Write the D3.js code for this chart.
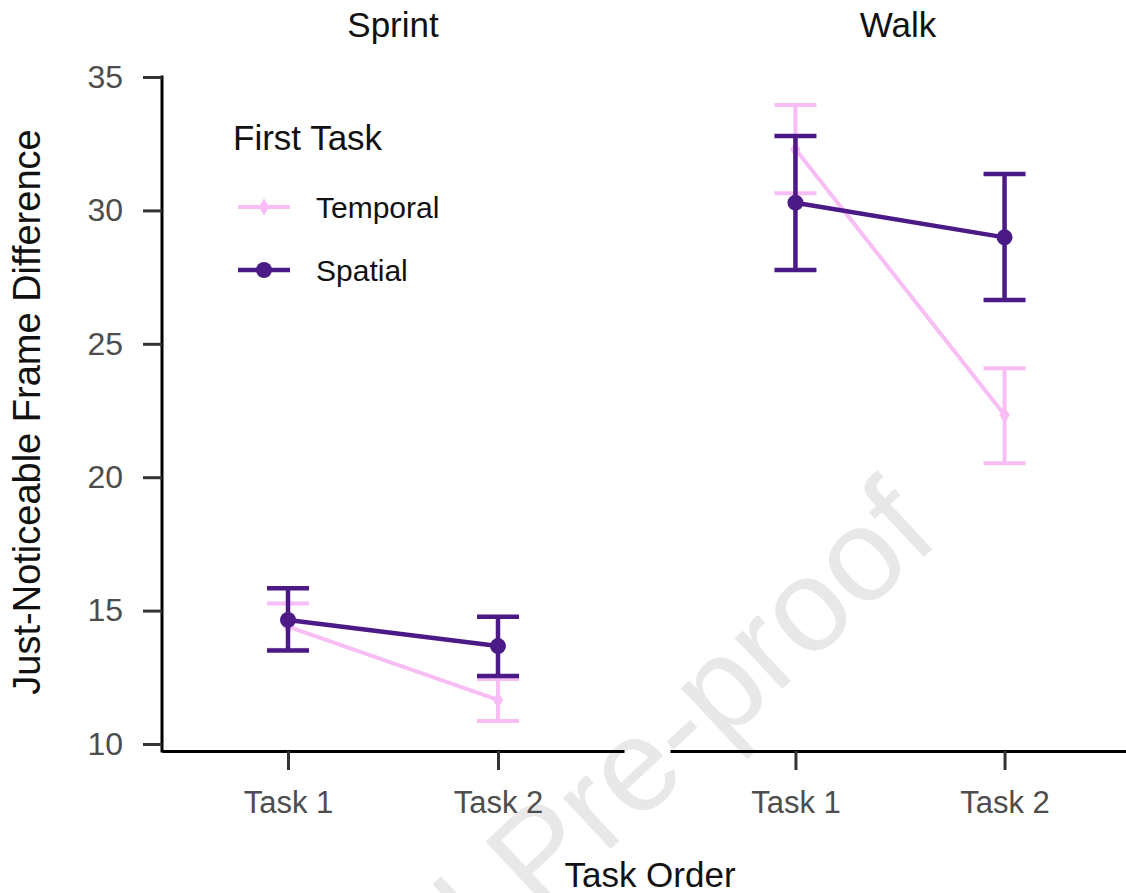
<!DOCTYPE html>
<html>
  <head>
    <meta charset="utf-8">
    <title>JND by task order</title>
    <style>
      body { margin: 0; background: #fff; }
      text { font-family: "Liberation Sans", Arial, sans-serif; }
    </style>
  </head>
  <body>
    <div class="chart"></div>
    <script src="https://d3js.org/d3.v7.min.js"></script>
    <script>
        var w = 1126, h = 893;

        // data
        var panels = ["Sprint", "Walk"];
        var tasks = ["Task 1", "Task 2"];
        var groups = ["Temporal", "Spatial"];
        var yTicks = [10, 15, 20, 25, 30, 35];
        // mean, lower, upper per panel / task
        var temporalMean = [[14.40, 11.65], [32.29, 22.33]];
        var temporalLow  = [[13.53, 10.86], [30.64, 20.52]];
        var temporalHigh = [[15.27, 12.44], [33.95, 24.08]];
        var spatialMean  = [[14.65, 13.67], [30.29, 28.99]];
        var spatialLow   = [[13.50, 12.55], [27.77, 26.64]];
        var spatialHigh  = [[15.84, 14.77], [32.79, 31.36]];

        var colors = { Temporal: "#f8bdf4", Spatial: "#4b1a87" };
        var widths = { Temporal: 4, Spatial: 4.5 };

        var series = [
          { name: "Temporal", mean: temporalMean, low: temporalLow, high: temporalHigh },
          { name: "Spatial", mean: spatialMean, low: spatialLow, high: spatialHigh }
        ];

        function symbolFor(name) {
          return name === "Spatial"
            ? d3.symbol().type(d3.symbolCircle).size(200)
            : d3.symbol().type(d3.symbolDiamond).size(90);
        }

        var svg = d3.select(".chart").append("svg")
          .attr("width", w).attr("height", h);

        // watermark
        svg.append("text")
          .attr("transform", "translate(942,540) rotate(-43)")
          .attr("text-anchor", "end")
          .style("font-size", "132px")
          .style("fill", "#e8e8e8")
          .text("Journal Pre-proof");

        var y = d3.scaleLinear().domain([10, 35]).range([744, 77]);
        var panelX = [[162, 624], [670, 1130]];
        var axisY = 751;

        panels.forEach(function(p, pi) {
          var x = d3.scalePoint().domain(tasks).range(panelX[pi]).padding(0.6);
          var g = svg.append("g");

          // facet title
          g.append("text")
            .attr("x", (panelX[pi][0] + Math.min(panelX[pi][1], w)) / 2)
            .attr("y", 37)
            .attr("text-anchor", "middle")
            .style("font-size", "35px")
            .style("fill", "#111")
            .text(p);

          // x axis
          var xa = g.append("g")
            .attr("transform", "translate(0," + axisY + ")")
            .call(d3.axisBottom(x).tickSizeInner(19).tickSizeOuter(0).tickPadding(21));
          xa.select(".domain").attr("stroke", "#000").attr("stroke-width", 3);
          xa.selectAll(".tick line").attr("stroke", "#333").attr("stroke-width", 3);
          xa.selectAll(".tick text").style("font-size", "31px").style("fill", "#4d4d4d")
            .attr("font-family", "Liberation Sans, Arial, sans-serif");

          series.forEach(function(s) {
            var pts = tasks.map(function(t, ti) {
              return { t: t, m: s.mean[pi][ti], lo: s.low[pi][ti], hi: s.high[pi][ti] };
            });
            var c = colors[s.name], sw = widths[s.name];

            // error bars
            var eb = g.selectAll(".eb-" + s.name).data(pts).enter().append("g");
            eb.append("line")
              .attr("x1", function(d) { return x(d.t); })
              .attr("x2", function(d) { return x(d.t); })
              .attr("y1", function(d) { return y(d.lo); })
              .attr("y2", function(d) { return y(d.hi); })
              .attr("stroke", c).attr("stroke-width", sw);
            ["lo", "hi"].forEach(function(k) {
              eb.append("line")
                .attr("x1", function(d) { return x(d.t) - 21; })
                .attr("x2", function(d) { return x(d.t) + 21; })
                .attr("y1", function(d) { return y(d[k]); })
                .attr("y2", function(d) { return y(d[k]); })
                .attr("stroke", c).attr("stroke-width", sw);
            });

            // line
            g.append("path")
              .datum(pts)
              .attr("fill", "none")
              .attr("stroke", c)
              .attr("stroke-width", sw)
              .attr("d", d3.line().x(function(d) { return x(d.t); }).y(function(d) { return y(d.m); }));

            // points
            g.selectAll(".pt-" + s.name).data(pts).enter().append("path")
              .attr("transform", function(d) { return "translate(" + x(d.t) + "," + y(d.m) + ")"; })
              .attr("d", symbolFor(s.name))
              .attr("fill", c);
          });
        });

        // y axis
        var ya = svg.append("g")
          .attr("transform", "translate(162,0)")
          .call(d3.axisLeft(y).tickValues(yTicks).tickSize(19).tickPadding(20));
        ya.select(".domain").attr("d", "M0,75.5V" + (axisY + 1.5)).attr("stroke", "#000").attr("stroke-width", 3);
        ya.selectAll(".tick line").attr("stroke", "#333").attr("stroke-width", 3);
        ya.selectAll(".tick text").style("font-size", "32px").style("fill", "#4d4d4d")
          .attr("font-family", "Liberation Sans, Arial, sans-serif");

        // axis titles
        svg.append("text")
          .attr("transform", "translate(40,412) rotate(-90)")
          .attr("text-anchor", "middle")
          .style("font-size", "38px")
          .style("fill", "#111")
          .text("Just-Noticeable Frame Difference");
        svg.append("text")
          .attr("x", 650).attr("y", 887)
          .attr("text-anchor", "middle")
          .style("font-size", "35px")
          .style("fill", "#111")
          .text("Task Order");

        // legend
        var lg = svg.append("g");
        lg.append("text").attr("x", 233).attr("y", 150)
          .style("font-size", "35px").style("fill", "#111").text("First Task");
        groups.forEach(function(name, i) {
          var ly = 207 + i * 63;
          var c = colors[name];
          lg.append("line").attr("x1", 238).attr("x2", 290).attr("y1", ly).attr("y2", ly)
            .attr("stroke", c).attr("stroke-width", widths[name]);
          lg.append("path").attr("transform", "translate(264," + ly + ")").attr("d", symbolFor(name)).attr("fill", c);
          lg.append("text").attr("x", 316).attr("y", ly + 11)
            .style("font-size", "30px").style("fill", "#111").text(name);
        });
    </script>
  </body>
</html>
